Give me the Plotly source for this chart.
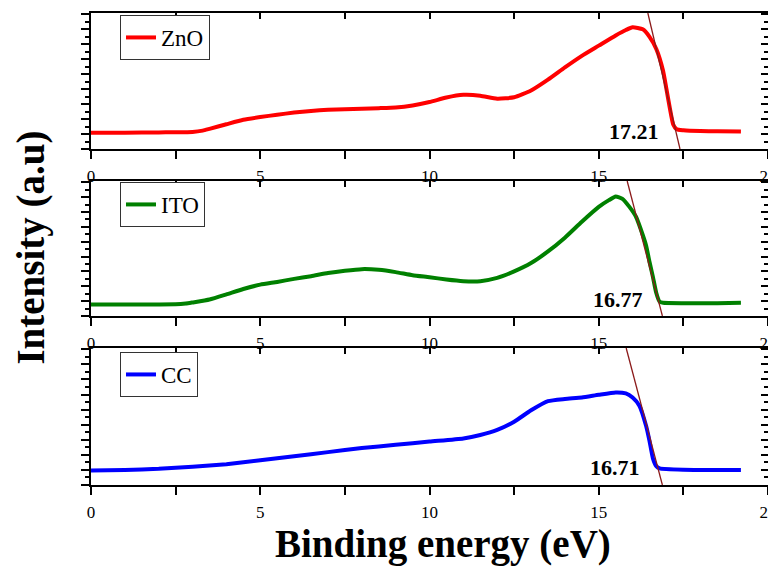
import plotly.graph_objects as go

# ---------------- data ----------------
energy_zno = [0, 1, 2, 3, 3.3, 3.5, 4, 4.5, 5, 5.5, 6, 6.5, 7, 7.5, 8, 8.5, 9, 9.5, 10, 10.5,
              11, 11.5, 12, 12.5, 13, 13.5, 14, 14.5, 15, 15.5, 15.8, 16.0, 16.3, 16.5, 16.7,
              16.9, 17.0, 17.1, 17.2, 17.3, 17.5, 18, 18.5, 19.2]
intensity_zno = [1.2, 1.2, 1.22, 1.25, 1.35, 1.48, 1.82, 2.15, 2.35, 2.52, 2.68, 2.8, 2.88, 2.93,
                 2.96, 3.0, 3.05, 3.2, 3.45, 3.78, 3.98, 3.92, 3.7, 3.8, 4.3, 5.1, 6.0, 6.85, 7.6,
                 8.35, 8.75, 8.95, 8.8, 8.25, 7.35, 5.75, 4.4, 3.0, 1.8, 1.45, 1.38, 1.32, 1.3, 1.28]

energy_ito = [0, 1, 2, 2.5, 2.8, 3, 3.5, 4, 4.5, 5, 5.5, 6, 6.5, 7, 7.5, 8, 8.5, 9, 9.5, 10, 10.5,
              11, 11.5, 12, 12.5, 13, 13.5, 14, 14.5, 15, 15.3, 15.5, 15.7, 15.9, 16.1, 16.3,
              16.4, 16.5, 16.6, 16.7, 16.8, 16.9, 17.5, 18.5, 19.2]
intensity_ito = [0.85, 0.85, 0.85, 0.86, 0.92, 1.0, 1.22, 1.6, 2.0, 2.32, 2.52, 2.75, 2.95, 3.18,
                 3.35, 3.47, 3.42, 3.25, 3.02, 2.87, 2.7, 2.58, 2.58, 2.82, 3.3, 3.92, 4.78, 5.8,
                 6.98, 8.08, 8.58, 8.85, 8.68, 8.1, 7.35, 6.0, 5.2, 4.0, 2.9, 1.7, 1.05, 0.98,
                 0.95, 0.95, 0.98]

energy_cc = [0, 1, 2, 3, 4, 5, 6, 7, 8, 9, 10, 11, 11.5, 12, 12.5, 13, 13.5, 14, 14.5, 15, 15.5,
             15.8, 16.0, 16.2, 16.4, 16.5, 16.6, 16.7, 16.8, 17.5, 18.5, 19.2]
intensity_cc = [1.05, 1.1, 1.18, 1.33, 1.52, 1.8, 2.1, 2.4, 2.7, 2.93, 3.17, 3.4, 3.65, 4.02, 4.62,
                5.45, 6.12, 6.28, 6.38, 6.58, 6.75, 6.68, 6.38, 5.78, 4.3, 3.2, 1.95, 1.38, 1.22,
                1.12, 1.1, 1.1]

# linear tangent (extrapolation) lines: energy at top and bottom of each panel
tangent_zno_x = [16.45, 17.40]
tangent_ito_x = [15.84, 16.88]
tangent_cc_x = [15.81, 16.88]
tangent_y = [10, 0]

onset_labels = ["17.21", "16.77", "16.71"]
series_names = ["ZnO", "ITO", "CC"]
series_colors = ["#FF0000", "#008000", "#0000FF"]
x_tick_values = [0, 5, 10, 15, 20]

# ---------------- figure ----------------
SERIF = "Liberation Serif"
TANGENT_COLOR = "#8B1A1A"

domains = [[0.7119, 1.0], [0.3581, 0.6441], [0.0, 0.2903]]
energies = [energy_zno, energy_ito, energy_cc]
intens = [intensity_zno, intensity_ito, intensity_cc]
tangents = [tangent_zno_x, tangent_ito_x, tangent_cc_x]
label_pos = [(16.85, 1.25), (16.38, 1.19), (16.29, 1.31)]
legend_tops = [0.9958, 0.642, 0.2818]

fig = go.Figure()
layout = {}

for k in range(3):
    xs = "" if k == 0 else str(k + 1)
    xname, yname = "x" + xs, "y" + xs
    ox, oy = "x" + str(k + 4), "y" + str(k + 4)
    leg = "legend" if k == 0 else "legend" + str(k + 1)

    fig.add_trace(go.Scatter(
        x=energies[k], y=intens[k], mode="lines", name=series_names[k],
        line=dict(color=series_colors[k], width=4, shape="spline", smoothing=0.5),
        xaxis=xname, yaxis=yname, legend=leg))
    fig.add_trace(go.Scatter(
        x=tangents[k], y=tangent_y, mode="lines", showlegend=False,
        line=dict(color=TANGENT_COLOR, width=1.3), xaxis=xname, yaxis=yname))
    # dummy traces to activate mirror axes
    fig.add_trace(go.Scatter(x=[None], y=[None], xaxis=ox, yaxis=yname,
                             showlegend=False, hoverinfo="skip"))
    fig.add_trace(go.Scatter(x=[None], y=[None], xaxis=xname, yaxis=oy,
                             showlegend=False, hoverinfo="skip"))

    common = dict(showline=True, linecolor="black", linewidth=1.6, showgrid=False,
                  zeroline=False, tickcolor="black", tickwidth=1.5, automargin=False)
    layout["xaxis" + xs] = dict(
        domain=[0, 1], anchor=yname, range=[0, 20], tickvals=x_tick_values,
        ticks="outside", ticklen=8, ticklabelstandoff=3, ticklabeloverflow="allow",
        minor=dict(dtick=2.5, tick0=0, ticks="outside", ticklen=8, tickwidth=1.5,
                   tickcolor="black"),
        tickfont=dict(family=SERIF, size=17, color="black"), **common)
    layout["yaxis" + xs] = dict(
        domain=domains[k], anchor=xname, range=[0, 10], tick0=0, dtick=1.1,
        ticks="outside", ticklen=8, showticklabels=False,
        minor=dict(dtick=0.55, tick0=0, ticks="outside", ticklen=4, tickwidth=1.5,
                   tickcolor="black"), **common)
    layout["xaxis" + str(k + 4)] = dict(
        overlaying=xname, anchor=yname, side="top", range=[0, 20], tickvals=x_tick_values,
        ticks="inside", ticklen=6, showticklabels=False,
        minor=dict(dtick=2.5, tick0=0, ticks="inside", ticklen=6, tickwidth=1.5,
                   tickcolor="black"), **common)
    layout["yaxis" + str(k + 4)] = dict(
        overlaying=yname, anchor=xname, side="right", range=[0, 10], tick0=0, dtick=1.1,
        ticks="inside", ticklen=7, showticklabels=False,
        minor=dict(dtick=0.55, tick0=0, ticks="inside", ticklen=4, tickwidth=1.5,
                   tickcolor="black"), **common)
    layout[leg] = dict(
        x=0.0428, y=legend_tops[k], xanchor="left", yanchor="top",
        bgcolor="white", bordercolor="#333333", borderwidth=1,
        font=dict(family=SERIF, size=23, color="black"))

annotations = []
for k in range(3):
    xs = "" if k == 0 else str(k + 1)
    annotations.append(dict(
        x=label_pos[k][0], y=label_pos[k][1], xref="x" + xs, yref="y" + xs,
        xanchor="right", yanchor="middle", showarrow=False,
        text="<b>" + onset_labels[k] + "</b>",
        font=dict(family=SERIF, size=22, color="black")))
annotations.append(dict(
    x=-0.0886, y=0.503, xref="paper", yref="paper", textangle=-90,
    xanchor="center", yanchor="middle", showarrow=False,
    text="<b>Intensity (a.u)</b>", font=dict(family=SERIF, size=39, color="black")))
annotations.append(dict(
    x=0.52, y=-0.125, xref="paper", yref="paper",
    xanchor="center", yanchor="middle", showarrow=False,
    text="<b>Binding energy (eV)</b>", font=dict(family=SERIF, size=39, color="black")))

# the page body adds an 8 px offset; the figure is sized so that the plot area
# lands at x 91..768 and y 13..485 of the photographed window
fig.update_layout(
    width=768, height=558,
    margin=dict(l=83, r=8, t=5, b=81, autoexpand=False),
    paper_bgcolor="white", plot_bgcolor="white",
    annotations=annotations, **layout)

fig.write_html("out.html")
